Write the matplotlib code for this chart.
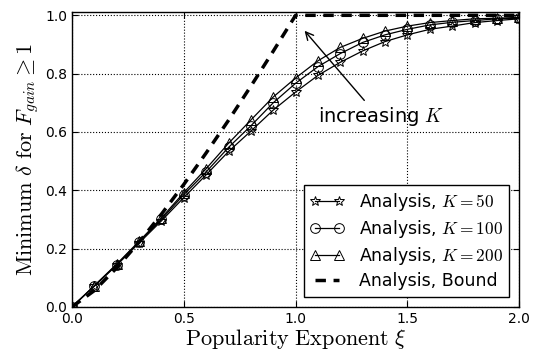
import matplotlib
matplotlib.use("Agg")
import matplotlib.pyplot as plt

plt.rcParams['mathtext.fontset'] = 'cm'
plt.rcParams['xtick.direction'] = 'in'
plt.rcParams['ytick.direction'] = 'in'
plt.rcParams['xtick.top'] = True
plt.rcParams['ytick.right'] = True

xi = [0.0, 0.1, 0.2, 0.3, 0.4, 0.5, 0.6, 0.7, 0.8, 0.9, 1.0,
      1.1, 1.2, 1.3, 1.4, 1.5, 1.6, 1.7, 1.8, 1.9, 2.0]

k50 = [0.0, 0.071, 0.143, 0.219, 0.295, 0.375, 0.453, 0.533, 0.603, 0.675, 0.737,
       0.794, 0.839, 0.878, 0.910, 0.933, 0.952, 0.963, 0.975, 0.982, 0.988]
k100 = [0.0, 0.072, 0.145, 0.222, 0.300, 0.385, 0.463, 0.547, 0.621, 0.700, 0.767,
        0.824, 0.869, 0.907, 0.933, 0.952, 0.967, 0.976, 0.982, 0.988, 0.990]
k200 = [0.0, 0.073, 0.147, 0.225, 0.305, 0.392, 0.474, 0.561, 0.641, 0.720, 0.785,
        0.844, 0.890, 0.921, 0.946, 0.963, 0.975, 0.982, 0.988, 0.990, 0.993]
bound = [0.0, 0.056, 0.134, 0.222, 0.318, 0.420, 0.528, 0.640, 0.757, 0.877, 1.0,
         1.0, 1.0, 1.0, 1.0, 1.0, 1.0, 1.0, 1.0, 1.0, 1.0]

fig = plt.figure(figsize=(5.37, 3.54), dpi=100)
ax = fig.add_axes([0.134, 0.133, 0.833, 0.832])

style = dict(color='k', lw=0.9, ms=7, mfc='none', mec='k', mew=0.7)
ax.plot(xi, k50, marker='*', label=r'Analysis, $K = 50$', **style)
ax.plot(xi, k100, marker='o', label=r'Analysis, $K = 100$', **style)
ax.plot(xi, k200, marker='^', label=r'Analysis, $K = 200$', **style)
ax.plot(xi, bound, color='k', lw=2.5, ls='--', dashes=(3, 2.2), label='Analysis, Bound')

ax.set_xlim(0, 2)
ax.set_ylim(0, 1.01)
ax.set_xticks([0.0, 0.5, 1.0, 1.5, 2.0])
ax.set_yticks([0.0, 0.2, 0.4, 0.6, 0.8, 1.0])
ax.tick_params(labelsize=10, length=4)
ax.grid(True, color='k', ls=':', lw=0.8)

ax.set_xlabel(r'$\mathrm{Popularity\ Exponent}\ \xi$', fontsize=16, labelpad=1)
ax.set_ylabel(r'$\mathrm{Minimum}\ \delta\ \mathrm{for}\ F_{gain} \geq 1$', fontsize=16, labelpad=3)

ax.annotate(r'increasing $K$', xy=(1.04, 0.947), xytext=(1.1, 0.652),
            fontsize=14, va='center', ha='left',
            arrowprops=dict(arrowstyle='->', color='k', lw=1,
                            shrinkA=2, shrinkB=0, relpos=(0.4, 1.0)))

leg = ax.legend(loc='lower right', numpoints=2, fontsize=12.5, fancybox=False,
                framealpha=1, edgecolor='k', borderaxespad=0.6, handlelength=2.0,
                labelspacing=0.3, borderpad=0.35)
leg.get_frame().set_linewidth(1)

for s in ax.spines.values():
    s.set_linewidth(1)

fig.savefig('out.png', dpi=100)
